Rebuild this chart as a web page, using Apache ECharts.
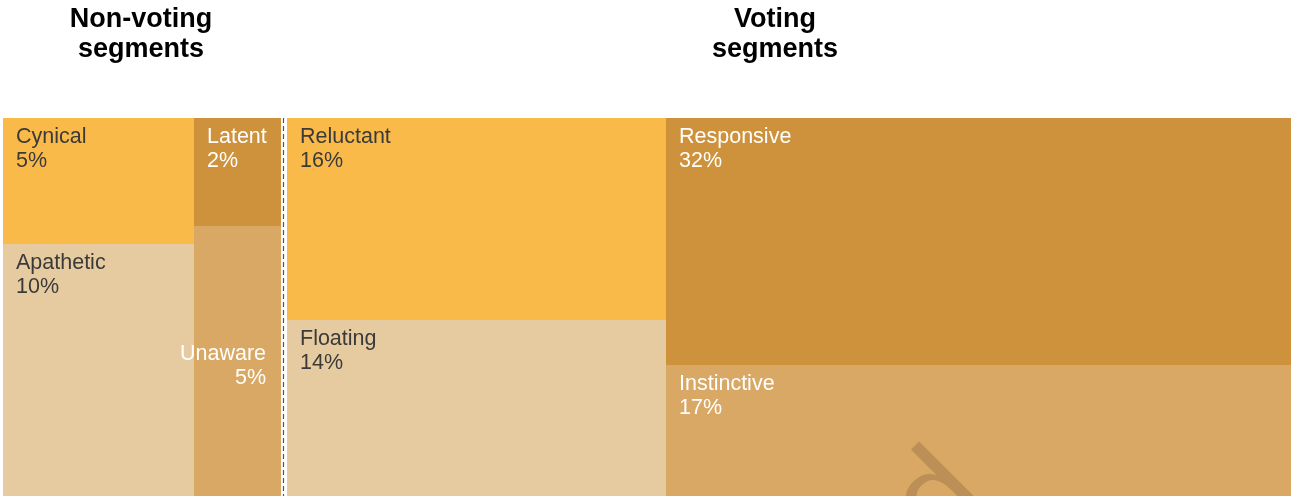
<!DOCTYPE html>
<html>
<head>
<meta charset="utf-8">
<script src="https://cdn.jsdelivr.net/npm/echarts@6/dist/echarts.min.js"></script>
<style>
html,body{margin:0;padding:0;background:#ffffff;}
#chart{width:1291px;height:496px;}
</style>
</head>
<body>
<div id="chart"></div>
<script>
// ---------------- data ----------------
const groupTitles = ['Non-voting\nsegments', 'Voting\nsegments'];
const segments = ['Cynical', 'Apathetic', 'Latent', 'Unaware', 'Reluctant', 'Floating', 'Responsive', 'Instinctive'];
const shares = [5, 10, 2, 5, 16, 14, 32, 17];
const segmentColumn = [0, 0, 1, 1, 2, 2, 3, 3];
const columnGroup = [0, 0, 1, 1];
const watermarkText = 'd';

// ---------------- styles ----------------
const tileColors = {
  Cynical: '#F9BA4A', Reluctant: '#F9BA4A',
  Apathetic: '#E7CBA0', Floating: '#E7CBA0',
  Latent: '#CD923B', Responsive: '#CD923B',
  Unaware: '#D8A864', Instinctive: '#D8A864'
};
const lightText = new Set(['Latent', 'Unaware', 'Responsive', 'Instinctive']);
const rightMiddleLabel = new Set(['Unaware']);
const FONT = "'Liberation Sans', Arial, Helvetica, sans-serif";
const LABEL_FONT = '21.5px ' + FONT;

// ---------------- layout built from the data ----------------
const nCols = columnGroup.length;
const colTotals = new Array(nCols).fill(0);
shares.forEach((v, i) => { colTotals[segmentColumn[i]] += v; });
const colStart = [];
let acc = 0;
for (let c = 0; c < nCols; c++) { colStart.push(acc); acc += colTotals[c]; }
const grandTotal = acc;
const groupTotals = [0, 0];
colTotals.forEach((v, c) => { groupTotals[columnGroup[c]] += v; });
const groupBoundary = groupTotals[0];

const colCum = new Array(nCols).fill(0);
const tiles = shares.map((v, i) => {
  const c = segmentColumn[i];
  const y0 = colCum[c] / colTotals[c];
  colCum[c] += v;
  const y1 = colCum[c] / colTotals[c];
  return [colStart[c], colStart[c] + colTotals[c], y0, y1, columnGroup[c]];
});

const GAP = 3; // half gap in px between the two groups

const chart = echarts.init(document.getElementById('chart'), null, {renderer: 'canvas'});
chart.setOption({
  animation: false,
  backgroundColor: '#ffffff',
  grid: {left: 3, right: 0, top: 118, bottom: 0},
  xAxis: {type: 'value', min: 0, max: grandTotal, show: false},
  yAxis: {type: 'value', min: 0, max: 1, inverse: true, show: false},
  graphic: [
    {type: 'text', x: 141, y: 5, z: 20, style: {text: groupTitles[0], font: 'bold 27px ' + FONT, fill: '#000', align: 'center', verticalAlign: 'top', lineHeight: 30}},
    {type: 'text', x: 775, y: 5, z: 20, style: {text: groupTitles[1], font: 'bold 27px ' + FONT, fill: '#000', align: 'center', verticalAlign: 'top', lineHeight: 30}},
    {type: 'text', x: 941, y: 502, z: 20, rotation: Math.PI / 4, silent: true,
     style: {text: watermarkText, font: '130px ' + FONT, fill: '#BB8F55', stroke: '#D8A864', lineWidth: 5,
             align: 'center', verticalAlign: 'middle'}}
  ],
  series: [{
    type: 'custom',
    clip: false,
    data: tiles,
    renderItem: function (params, api) {
      const i = params.dataIndex;
      const name = segments[i];
      const p0 = api.coord([api.value(0), api.value(2)]);
      const p1 = api.coord([api.value(1), api.value(3)]);
      let x0 = Math.round(p0[0]), x1 = Math.round(p1[0]);
      const y0 = Math.round(p0[1]), y1 = Math.round(p1[1]);
      const bx = Math.round(api.coord([groupBoundary, 0])[0]);
      if (x1 === bx) x1 -= GAP;
      if (x0 === bx) x0 += GAP;
      const txtColor = lightText.has(name) ? '#FFFFFF' : '#3A3A3A';
      const label = name + '\n' + shares[i] + '%';
      let textEl;
      if (rightMiddleLabel.has(name)) {
        textEl = {type: 'text', z2: 5, style: {text: label, x: x1 - 15, y: (y0 + y1) / 2 + 5, align: 'right', verticalAlign: 'middle', font: LABEL_FONT, lineHeight: 24, fill: txtColor}};
      } else {
        textEl = {type: 'text', z2: 5, style: {text: label, x: x0 + 13, y: y0 + 7, align: 'left', verticalAlign: 'top', font: LABEL_FONT, lineHeight: 24, fill: txtColor}};
      }
      return {
        type: 'group',
        children: [
          {type: 'rect', z2: 1, shape: {x: x0, y: y0, width: x1 - x0, height: y1 - y0}, style: {fill: tileColors[name]}},
          textEl
        ]
      };
    },
    markLine: {
      silent: true,
      symbol: 'none',
      label: {show: false},
      data: [
        {xAxis: groupBoundary, lineStyle: {color: '#555555', width: 1.2, type: [5, 3]}}
      ]
    }
  }]
});
</script>
</body>
</html>
